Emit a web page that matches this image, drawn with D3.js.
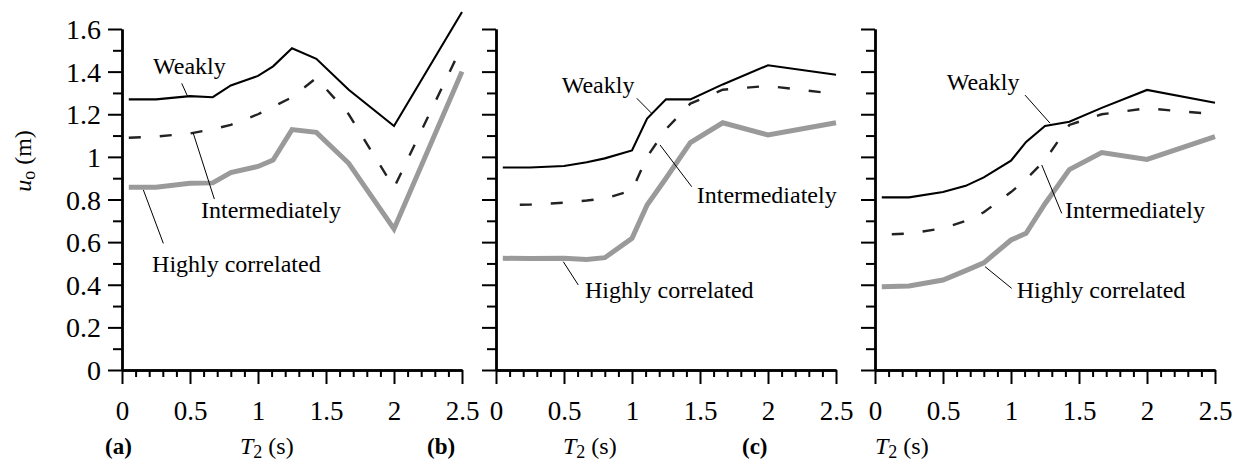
<!DOCTYPE html>
<html>
<head>
<meta charset="utf-8">
<script src="https://cdn.jsdelivr.net/npm/d3@7"></script>
<style>
  html, body { margin: 0; padding: 0; background: #fff; }
  svg { display: block; }
</style>
</head>
<body>
<svg id="chart" width="1241" height="462"></svg>
<script>
// Excitation period T2 (s) at which the peak displacement was evaluated
const periods = [0.05, 0.25, 0.5, 0.667, 0.8, 1.0, 1.111, 1.25, 1.429, 1.667, 2.0, 2.5];

// Peak displacement u_o (m), panel (a)
const weaklyA   = [1.27, 1.27, 1.285, 1.28, 1.335, 1.38, 1.425, 1.51, 1.46, 1.315, 1.145, 1.68];
const interA    = [1.09, 1.095, 1.11, 1.13, 1.15, 1.2, 1.235, 1.28, 1.37, 1.2, 0.855, 1.52];
const highlyA   = [0.857, 0.857, 0.876, 0.878, 0.926, 0.955, 0.985, 1.128, 1.115, 0.97, 0.662, 1.40];

// Panel (b)
const weaklyB   = [0.95, 0.95, 0.957, 0.975, 0.993, 1.03, 1.18, 1.27, 1.27, 1.34, 1.43, 1.385];
const interB    = [0.774, 0.776, 0.785, 0.795, 0.805, 0.842, 1.0, 1.13, 1.25, 1.315, 1.333, 1.295];
const highlyB   = [0.524, 0.523, 0.524, 0.519, 0.527, 0.618, 0.774, 0.9, 1.067, 1.16, 1.103, 1.16];

// Panel (c)
const weaklyC   = [0.81, 0.81, 0.835, 0.864, 0.904, 0.982, 1.07, 1.145, 1.165, 1.23, 1.314, 1.254];
const interC    = [0.635, 0.64, 0.665, 0.70, 0.74, 0.835, 0.895, 0.985, 1.15, 1.2, 1.228, 1.2];
const highlyC   = [0.391, 0.394, 0.422, 0.466, 0.503, 0.61, 0.641, 0.78, 0.94, 1.02, 0.988, 1.095];

// Axis ticks
const yMajorTicks = [0, 0.2, 0.4, 0.6, 0.8, 1, 1.2, 1.4, 1.6];
const yMinorTicks = [0.1, 0.3, 0.5, 0.7, 0.9, 1.1, 1.3, 1.5];
const xMajorTicks = [0, 0.5, 1, 1.5, 2, 2.5];
const xMinorTicks = d3.range(1, 25).map(i => i / 10).filter(v => Math.abs(v * 2 - Math.round(v * 2)) > 1e-6);

const seriesNames = ["Weakly", "Intermediately", "Highly correlated"];
const panelLetters = ["(a)", "(b)", "(c)"];

// Layout of the three panels (pixel placement only)
const panelLayout = [
  { x: 122, showY: true,  letterX: 105, titleX: 240, dashOffset: 0 },
  { x: 496, showY: false, letterX: 427, titleX: 563, dashOffset: 14 },
  { x: 875, showY: false, letterX: 742, titleX: 875, dashOffset: -10 }
];
const plotTop = 29, plotW = 340, plotH = 341;
const FONT = "Liberation Serif";

// Annotation placement in data units: text anchor [T, u], leader from / to
const annotations = [
  [ { text: [0.228, 1.389], from: [0.439, 1.345], to: [0.483, 1.283] },
    { text: [0.581, 0.712], from: [0.524, 1.111], to: [0.679, 0.802] },
    { text: [0.221, 0.461], from: [0.157, 0.845], to: [0.304, 0.594] } ],
  [ { text: [0.483, 1.298], from: [1.035, 1.275], to: [1.145, 1.204] },
    { text: [1.476, 0.782], from: [1.206, 1.056], to: [1.439, 0.860] },
    { text: [0.654, 0.338], from: [0.495, 0.508], to: [0.605, 0.399] } ],
  [ { text: [0.527, 1.314], from: [1.103, 1.290], to: [1.287, 1.158] },
    { text: [1.397, 0.712], from: [1.226, 0.962], to: [1.373, 0.735] },
    { text: [1.042, 0.336], from: [0.809, 0.485], to: [1.005, 0.383] } ]
];

const panelSeries = [
  [weaklyA, interA, highlyA],
  [weaklyB, interB, highlyB],
  [weaklyC, interC, highlyC]
];

const seriesStyle = [
  { stroke: "#000", width: 2.1, dash: null },
  { stroke: "#222", width: 2.4, dash: "12,19" },
  { stroke: "#9a9a9a", width: 5, dash: null }
];

const svg = d3.select("#chart");

const x = d3.scaleLinear().domain([0, 2.5]).range([0, plotW]);
const y = d3.scaleLinear().domain([0, 1.6]).range([plotH, 0]);

const line = d3.line().x(d => x(d[0])).y(d => y(d[1]));

function serifText(sel, size) {
  return sel.style("font-family", FONT).style("font-size", size + "px").attr("fill", "#000");
}

panelLayout.forEach((p, pi) => {
  const g = svg.append("g").attr("transform", `translate(${p.x},${plotTop})`);

  // Y axis: minor and major ticks drawn outward
  const yMinor = g.append("g").call(d3.axisLeft(y).tickValues(yMinorTicks).tickSize(9).tickSizeOuter(0).tickFormat(""));
  const yMajor = g.append("g").call(d3.axisLeft(y).tickValues(yMajorTicks).tickSize(14).tickSizeOuter(0)
      .tickFormat(p.showY ? (d => d3.format("")(d)) : ""));
  // X axis
  const xMinor = g.append("g").attr("transform", `translate(0,${plotH})`)
      .call(d3.axisBottom(x).tickValues(xMinorTicks).tickSize(7).tickSizeOuter(0).tickFormat(""));
  const xMajor = g.append("g").attr("transform", `translate(0,${plotH})`)
      .call(d3.axisBottom(x).tickValues(xMajorTicks).tickSize(14).tickSizeOuter(0).tickFormat(d3.format("")));

  [yMinor, yMajor, xMinor, xMajor].forEach(a => {
    a.select(".domain").attr("stroke", "#000").attr("stroke-width", 2.4);
    a.selectAll(".tick line").attr("stroke", "#000").attr("stroke-width", 2);
  });

  serifText(yMajor.selectAll(".tick text"), 28)
      .attr("x", -21).attr("dy", "0.34em");
  serifText(xMajor.selectAll(".tick text"), 27)
      .attr("y", 0).attr("dy", 0)
      .attr("transform", `translate(0,${420 - plotTop - plotH})`);

  // Series lines
  panelSeries[pi].forEach((vals, si) => {
    const st = seriesStyle[si];
    const pts = periods.map((t, i) => [t, vals[i]]);
    const path = g.append("path")
      .attr("d", line(pts))
      .attr("fill", "none")
      .attr("stroke", st.stroke)
      .attr("stroke-width", st.width)
      .attr("stroke-linejoin", "miter")
      .attr("stroke-miterlimit", 10);
    if (st.dash) path.attr("stroke-dasharray", st.dash).attr("stroke-dashoffset", p.dashOffset);
  });

  // Annotations with leader lines
  annotations[pi].forEach((a, si) => {
    g.append("line")
      .attr("x1", x(a.from[0])).attr("y1", y(a.from[1]))
      .attr("x2", x(a.to[0])).attr("y2", y(a.to[1]))
      .attr("stroke", "#000").attr("stroke-width", 1);
    serifText(g.append("text"), 24)
      .attr("x", x(a.text[0])).attr("y", y(a.text[1]))
      .text(seriesNames[si]);
  });

  // Panel letter and x-axis title
  serifText(svg.append("text"), 23)
    .attr("x", p.letterX).attr("y", 454)
    .style("font-weight", "bold")
    .text(panelLetters[pi]);
  const tt = serifText(svg.append("text"), 24)
    .attr("x", p.titleX).attr("y", 454);
  tt.append("tspan").style("font-style", "italic").text("T");
  tt.append("tspan").style("font-size", "18px").attr("dy", 4).text("2");
  tt.append("tspan").attr("dy", -4).text(" (s)");
});

// Y-axis title
const yt = serifText(svg.append("text"), 24)
  .attr("transform", "translate(31,161) rotate(-90)")
  .attr("text-anchor", "middle");
yt.append("tspan").style("font-style", "italic").text("u");
yt.append("tspan").style("font-size", "18px").attr("dy", 4).text("o");
yt.append("tspan").attr("dy", -4).text(" (m)");
</script>
</body>
</html>
